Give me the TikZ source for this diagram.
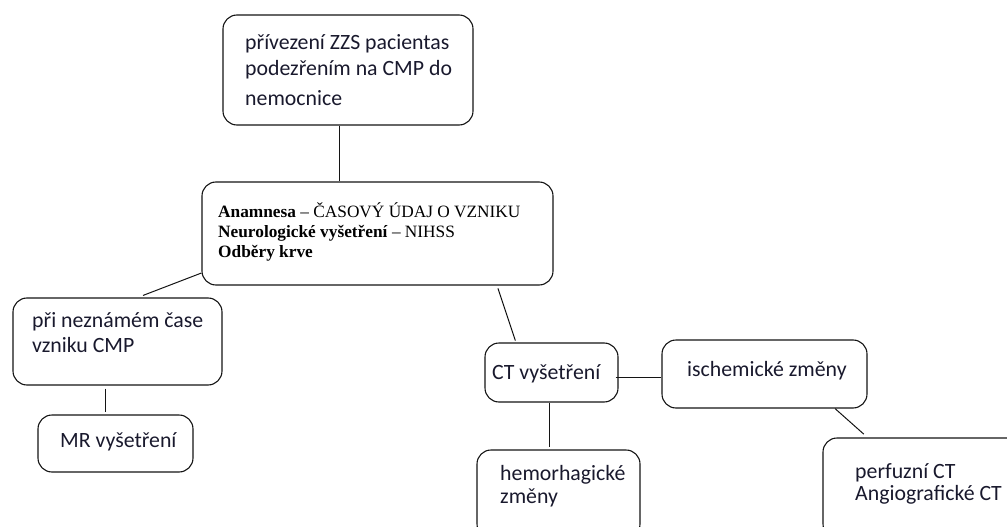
\documentclass[tikz,border=0pt]{standalone}
\usepackage{fontspec}
\setmainfont{Carlito}
\newfontfamily\timesf{Liberation Serif}
\definecolor{txt}{RGB}{25,25,45}
\definecolor{ln}{RGB}{20,20,20}
\begin{document}
\begin{tikzpicture}[x=1pt,y=-1pt,
  box/.style={draw=ln,line width=1.1pt,rounded corners=14pt,inner sep=0pt},
  conn/.style={draw=ln,line width=1pt},
  cal/.style={anchor=base west,inner sep=0pt,text=txt,font=\fontsize{21.8}{25}\selectfont},
  tim/.style={anchor=base west,inner sep=0pt,text=black,font=\timesf\fontsize{17.3}{20}\selectfont}]
\useasboundingbox (0,0) rectangle (1007,527);
\clip (0,0) rectangle (1007,527);
% boxes
\node[box,minimum width=250pt,minimum height=110pt] (b1) at (348,70) {};
\node[box,minimum width=351pt,minimum height=103pt] (b2) at (377.5,233.5) {};
\node[box,minimum width=209pt,minimum height=87pt] (b3) at (117.5,341.5) {};
\node[box,minimum width=155pt,minimum height=57pt] (b4) at (115.5,443.5) {};
\node[box,minimum width=133pt,minimum height=59pt] (b5) at (551.5,372.5) {};
\node[box,minimum width=205pt,minimum height=68pt] (b6) at (764.5,374) {};
\node[box,minimum width=163pt,minimum height=88pt] (b7) at (558.5,494) {};
\node[box,minimum width=205pt,minimum height=100pt] (b8) at (925.5,488) {};
% texts
\node[cal] (t1a) at (245,50) {přívezení ZZS pacientas};
\node[cal] (t1b) at (245,75) {podezřením na CMP do};
\node[cal] (t1c) at (245,105) {nemocnice};
\node[tim] (t2a) at (218,217) {\textbf{Anamnesa} – ČASOVÝ ÚDAJ O VZNIKU};
\node[tim] (t2b) at (218,237) {\textbf{Neurologické vyšetření} – NIHSS};
\node[tim] (t2c) at (218,257) {\textbf{Odběry krve}};
\node[cal] (t3a) at (32,327) {při neznámém čase};
\node[cal] (t3b) at (32,352) {vzniku CMP};
\node[cal] (t4) at (60,447) {MR vyšetření};
\node[cal] (t5) at (492,379) {CT vyšetření};
\node[cal] (t6) at (687,376) {ischemické změny};
\node[cal] (t7a) at (500,480) {hemorhagické};
\node[cal] (t7b) at (500,503) {změny};
\node[cal] (t8a) at (855,478) {perfuzní CT};
\node[cal] (t8b) at (855,500) {Angiografické CT};
% connectors
\draw[conn] ([xshift=-9pt]b1.south) -- ([xshift=-9pt]b1.south |- b2.north);
\draw[conn] ([yshift=-39.5pt]b2.west) -- ([xshift=25.5pt,yshift=2pt]b3.north);
\draw[conn,shorten <=3pt,shorten >=2pt] ([xshift=-12.5pt]b3.south) -- ([xshift=-12.5pt]b3.south |- b4.north);
\draw[conn,shorten <=3pt,shorten >=2pt] ([xshift=119.5pt]b2.south) -- ([xshift=-35.5pt]b5.north);
\draw[conn] ([xshift=-3pt,yshift=-4.5pt]b5.east) -- ([yshift=-4.5pt]b5.east -| b6.west);
\draw[conn,shorten >=2pt] ([xshift=-2.5pt]b5.south) -- ([xshift=-2.5pt]b5.south |- b7.north);
\draw[conn,shorten >=5pt] ([xshift=70.5pt]b6.south) -- ([xshift=-58pt]b8.north);
\end{tikzpicture}
\end{document}
